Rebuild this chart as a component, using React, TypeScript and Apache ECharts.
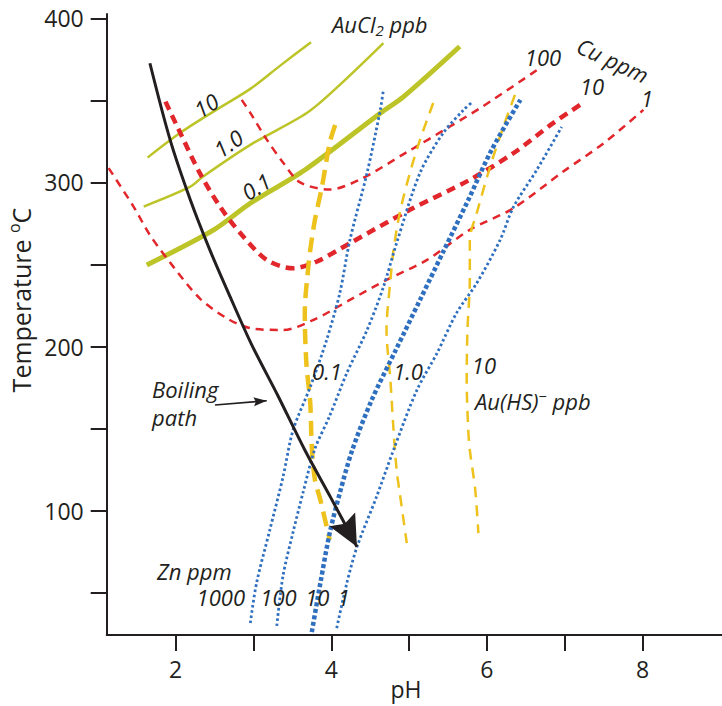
import React, { useEffect, useRef } from 'react';
import * as echarts from 'echarts';

// ---------- axes ----------
const X_MIN = 1.115;
const X_MAX = 9.02;
const Y_MIN = 24.3;
const Y_MAX = 402.6;
const xTicks = [2, 3, 4, 5, 6, 7, 8];
const xTickLabels = [2, 4, 6, 8];
const yTicks = [50, 100, 150, 200, 250, 300, 350, 400];
const yTickLabels = [100, 200, 300, 400];

// ---------- AuCl2 ppb (pH, T) ----------
const auCl2_10 = [[1.64, 315.1], [2.06, 330.2], [2.48, 343.0], [2.96, 357.0], [3.34, 371.0], [3.74, 385.4]];
const auCl2_1 = [[1.59, 285.3], [2.19, 297.4], [2.35, 303.5], [2.96, 322.9], [3.69, 342.4], [4.11, 359.4], [4.67, 384.8]];
const auCl2_01 = [[1.63, 249.7], [2.49, 271.1], [2.96, 287.3], [3.66, 307.6], [4.63, 342.2], [4.93, 352.3], [5.65, 382.8]];

// ---------- Cu ppm ----------
const cu100 = [[2.85, 350.3], [2.96, 342.4], [3.17, 326.2], [3.38, 312.2], [3.6, 300.0], [3.98, 295.7], [4.37, 301.8], [4.97, 318.4], [5.53, 334.2], [5.95, 346.4], [6.66, 369.0]];
const cu10 = [[1.87, 349.2], [2.06, 330.2], [2.31, 305.8], [2.57, 285.3], [2.83, 269.2], [3.17, 252.8], [3.51, 247.7], [3.81, 251.7], [4.24, 263.0], [5.01, 283.3], [5.78, 301.6], [6.34, 317.8], [6.85, 336.1], [7.26, 349.2]];
const cu1 = [[1.14, 308.7], [1.46, 285.3], [1.67, 268.0], [1.97, 248.7], [2.31, 229.4], [2.66, 217.2], [2.96, 211.2], [3.38, 210.1], [3.77, 216.2], [4.24, 228.4], [4.71, 240.6], [5.23, 252.8], [5.78, 271.1], [6.34, 284.3], [6.98, 306.6], [7.5, 323.9], [8.01, 344.2]];

// ---------- Zn ppm ----------
const zn1000 = [[2.96, 31.6], [3.04, 55.9], [3.21, 88.2], [3.38, 120.5], [3.51, 149.2], [3.73, 175.4], [3.94, 204.0], [4.11, 232.7], [4.24, 265.0], [4.46, 305.8], [4.63, 344.2], [4.67, 356.4]];
const zn100 = [[3.3, 29.8], [3.38, 60.3], [3.51, 87.1], [3.64, 111.5], [3.79, 137.7], [3.98, 157.8], [4.2, 183.9], [4.46, 210.1], [4.67, 236.3], [4.84, 263.1], [5.14, 305.8], [5.44, 330.2], [5.7, 344.2], [5.8, 348.5]];
const zn10 = [[3.75, 26.1], [3.86, 55.9], [3.98, 86.4], [4.11, 110.8], [4.27, 137.0], [4.52, 167.5], [4.83, 198.0], [5.14, 228.4], [5.45, 258.9], [5.76, 289.3], [6.06, 319.8], [6.43, 350.3]];
const zn1 = [[4.07, 28.5], [4.2, 55.9], [4.33, 77.9], [4.58, 108.3], [4.8, 137.0], [5.1, 173.5], [5.36, 196.1], [5.61, 220.5], [5.87, 238.7], [6.17, 265.0], [6.34, 285.0], [6.64, 307.6], [6.96, 333.8]];

// ---------- Au(HS)- ppb ----------
const auHS01 = [[4.05, 335.0], [3.98, 324.1], [3.88, 297.3], [3.79, 277.2], [3.73, 258.9], [3.71, 250.9], [3.66, 220.5], [3.68, 190.0], [3.73, 165.7], [3.75, 138.9], [3.79, 118.8], [3.86, 106.6], [3.98, 82.3]];
const auHS1 = [[5.31, 348.4], [5.14, 325.9], [5.01, 305.8], [4.88, 281.4], [4.8, 258.9], [4.76, 240.6], [4.71, 210.1], [4.76, 179.6], [4.8, 149.2], [4.84, 124.8], [4.88, 110.8], [4.97, 80.3]];
const auHS10 = [[6.36, 353.3], [6.21, 333.8], [6.04, 309.4], [5.87, 281.4], [5.78, 265.0], [5.78, 240.6], [5.75, 210.1], [5.74, 179.6], [5.76, 149.2], [5.78, 137.0], [5.85, 112.6], [5.89, 86.4]];

// ---------- boiling path ----------
const boilingPath = [[1.67, 372.6], [1.93, 325.9], [2.19, 289.3], [2.44, 258.9], [2.7, 230.4], [2.98, 200.9], [3.31, 170.5], [3.66, 137.0], [3.99, 108.3], [4.33, 78.1]];
const boilingPointer = [[2.506, 164.4], [3.171, 167.0]];

// ---------- annotation labels (pH, T anchor) ----------
const labels = [
  { text: '{a|AuCl}{sub|2}{a| ppb}', x: 4.009, y: 396.3, align: 'left', rot: 0 },
  { text: '10', x: 2.391, y: 347.2, align: 'center', rot: 32 },
  { text: '1.0', x: 2.674, y: 324.0, align: 'center', rot: 35 },
  { text: '0.1', x: 3.033, y: 297.8, align: 'center', rot: 32 },
  { text: '100', x: 6.72, y: 376.5, align: 'center', rot: 0 },
  { text: 'Cu ppm', x: 7.62, y: 374.6, align: 'center', rot: -25 },
  { text: '10', x: 7.35, y: 358.8, align: 'center', rot: 0 },
  { text: '1', x: 8.056, y: 351.5, align: 'center', rot: 0 },
  { text: 'Boiling\npath', x: 1.697, y: 165.6, align: 'left', rot: 0 },
  { text: '0.1', x: 3.945, y: 185.1, align: 'center', rot: 0 },
  { text: '1.0', x: 4.986, y: 185.1, align: 'center', rot: 0 },
  { text: '10', x: 5.962, y: 188.8, align: 'center', rot: 0 },
  { text: '{a|Au(HS)}{sup|\u2212}{a| ppb}', x: 5.846, y: 166.8, align: 'left', rot: 0 },
  { text: 'Zn ppm', x: 1.761, y: 63.3, align: 'left', rot: 0 },
  { text: '1000', x: 2.892, y: 47.4, align: 'right', rot: 0 },
  { text: '100', x: 3.322, y: 47.4, align: 'center', rot: 0 },
  { text: '10', x: 3.82, y: 47.4, align: 'center', rot: 0 },
  { text: '1', x: 4.16, y: 47.4, align: 'center', rot: 0 },
];

const FONT = "'Open Sans', 'Noto Sans', sans-serif";
const INK = '#231f20';
const GREEN = '#bcc428';
const RED = '#e1262c';
const BLUE = '#2f6fbf';
const GOLD = '#eec21c';

export default function App() {
  const ref = useRef<HTMLDivElement>(null);

  useEffect(() => {
    const el = ref.current as HTMLDivElement;
    const chart = echarts.init(el, null, { renderer: 'svg' });

    const line = (name: string, data: number[][], color: string, width: number, dash: any, z = 2, smooth = 0.3) => ({
      name,
      type: 'line',
      data,
      showSymbol: false,
      symbol: 'none',
      smooth,
      silent: true,
      z,
      lineStyle: { color, width, type: dash, cap: 'butt' },
      emphasis: { disabled: true },
    });

    const n = boilingPath.length;
    const arrowData = [
      [boilingPath[n - 1][0], boilingPath[n - 1][1], boilingPath[n - 2][0], boilingPath[n - 2][1]],
      [boilingPointer[1][0], boilingPointer[1][1], boilingPointer[0][0], boilingPointer[0][1]],
    ];
    const arrowSizes = [
      { len: 31, half: 14.5, notch: 5 },
      { len: 13, half: 4.5, notch: 2 },
    ];

    const option: any = {
      animation: false,
      backgroundColor: '#ffffff',
      grid: { left: 106.7, right: 0, top: 14, bottom: 71, containLabel: false },
      xAxis: {
        type: 'value',
        min: X_MIN,
        max: X_MAX,
        splitLine: { show: false },
        axisLine: { show: true, onZero: false, lineStyle: { color: INK, width: 2 } },
        axisTick: { show: true, inside: false, length: 16, lineStyle: { color: INK, width: 2 }, customValues: xTicks },
        axisLabel: { show: true, margin: 22, fontSize: 23, fontFamily: FONT, color: INK, customValues: xTickLabels },
      },
      yAxis: {
        type: 'value',
        min: Y_MIN,
        max: Y_MAX,
        splitLine: { show: false },
        axisLine: { show: true, onZero: false, lineStyle: { color: INK, width: 2 } },
        axisTick: { show: true, inside: false, length: 16, lineStyle: { color: INK, width: 2 }, customValues: yTicks },
        axisLabel: { show: true, margin: 23, fontSize: 23, fontFamily: FONT, color: INK, customValues: yTickLabels },
      },
      series: [
        line('AuCl2 10', auCl2_10, GREEN, 2.5, 'solid'),
        line('AuCl2 1.0', auCl2_1, GREEN, 2.5, 'solid'),
        line('AuCl2 0.1', auCl2_01, GREEN, 5, 'solid'),
        line('Cu 100', cu100, RED, 2.5, [8, 6], 3),
        line('Cu 10', cu10, RED, 4.5, [9, 6], 3),
        line('Cu 1', cu1, RED, 2.5, [8, 6], 3),
        line('Zn 1000', zn1000, BLUE, 2.8, [2.6, 2.6], 4),
        line('Zn 100', zn100, BLUE, 2.8, [2.6, 2.6], 4),
        line('Zn 10', zn10, BLUE, 4.5, [4, 2.5], 4),
        line('Zn 1', zn1, BLUE, 2.8, [2.6, 2.6], 4),
        line('AuHS 0.1', auHS01, GOLD, 4.5, [15, 8], 3),
        line('AuHS 1.0', auHS1, GOLD, 2.5, [11, 8], 3),
        line('AuHS 10', auHS10, GOLD, 2.5, [11, 8], 3),
        line('Boiling path', boilingPath, INK, 3, 'solid', 6),
        line('Pointer', boilingPointer, INK, 1.6, 'solid', 6, 0),
        {
          type: 'custom',
          coordinateSystem: 'cartesian2d',
          silent: true,
          z: 7,
          data: arrowData,
          renderItem: (params: any, api: any) => {
            const tip = api.coord([api.value(0), api.value(1)]);
            const from = api.coord([api.value(2), api.value(3)]);
            const s = arrowSizes[params.dataIndex];
            let dx = tip[0] - from[0];
            let dy = tip[1] - from[1];
            const d = Math.hypot(dx, dy) || 1;
            dx /= d;
            dy /= d;
            const bx = tip[0] - dx * s.len;
            const by = tip[1] - dy * s.len;
            const nx = -dy;
            const ny = dx;
            const points = [
              tip,
              [bx + nx * s.half, by + ny * s.half],
              [bx + dx * s.notch, by + dy * s.notch],
              [bx - nx * s.half, by - ny * s.half],
            ];
            return { type: 'polygon', shape: { points }, style: { fill: INK, stroke: 'none' } };
          },
        },
      ],
    };

    chart.setOption(option);

    const richBase = {
      a: { fontSize: 22, fontStyle: 'italic', fontFamily: FONT, fill: INK, lineHeight: 26, verticalAlign: 'middle' },
      sub: { fontSize: 15, fontStyle: 'italic', fontFamily: FONT, fill: INK, lineHeight: 15, verticalAlign: 'bottom' },
      sup: { fontSize: 15, fontStyle: 'italic', fontFamily: FONT, fill: INK, lineHeight: 15, verticalAlign: 'top' },
    };

    const graphic: any[] = labels.map((l) => {
      const p = chart.convertToPixel({ gridIndex: 0 }, [l.x, l.y]) as number[];
      const isRich = l.text.indexOf('{') >= 0;
      return {
        type: 'text',
        x: p[0],
        y: p[1],
        rotation: (l.rot * Math.PI) / 180,
        silent: true,
        z: 10,
        style: {
          text: l.text,
          fill: INK,
          fontSize: 22,
          fontStyle: 'italic',
          fontFamily: FONT,
          lineHeight: 28,
          align: l.align,
          verticalAlign: 'middle',
          rich: isRich ? richBase : undefined,
        },
      };
    });

    graphic.push({
      type: 'text',
      x: 406,
      y: 689,
      silent: true,
      style: { text: 'pH', fill: INK, fontSize: 23, fontFamily: FONT, align: 'center', verticalAlign: 'middle' },
    });
    graphic.push({
      type: 'text',
      x: 21,
      y: 300,
      rotation: Math.PI / 2,
      silent: true,
      style: {
        text: '{t|Temperature }{s|o}{t|C}',
        fill: INK,
        fontSize: 25,
        fontFamily: FONT,
        align: 'center',
        verticalAlign: 'middle',
        rich: {
          t: { fontSize: 25, fontFamily: FONT, fill: INK, lineHeight: 30, verticalAlign: 'middle' },
          s: { fontSize: 16, fontFamily: FONT, fill: INK, lineHeight: 16, verticalAlign: 'top' },
        },
      },
    });

    chart.setOption({ graphic });

    return () => {
      chart.dispose();
    };
  }, []);

  return (
    <div
      ref={ref}
      style={{ position: 'absolute', left: 0, top: 0, width: 722, height: 706, background: '#ffffff' }}
    />
  );
}
